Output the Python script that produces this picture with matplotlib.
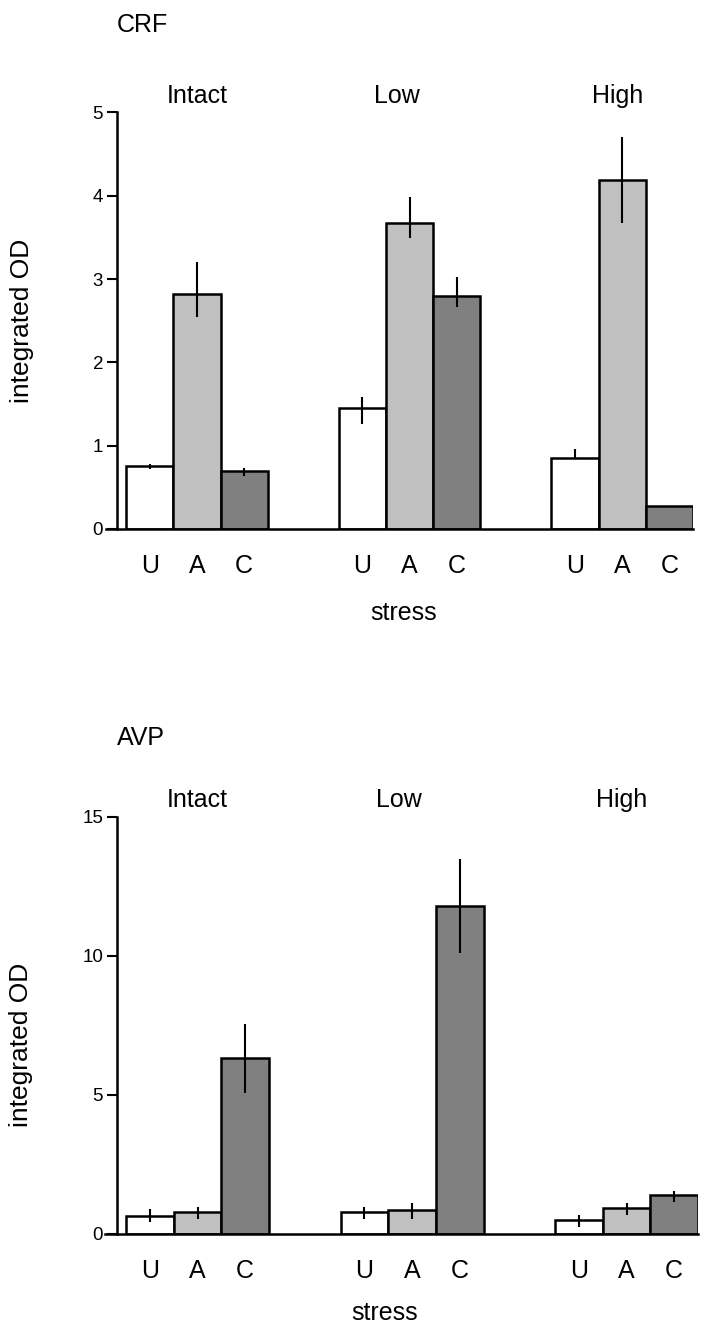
import numpy as np
import matplotlib
matplotlib.use("Agg")
import matplotlib.pyplot as plt
import matplotlib.transforms as mtransforms

plt.rcParams['font.family'] = ['Liberation Sans', 'DejaVu Sans']

groups = ['Intact', 'Low', 'High']
conditions = ['U', 'A', 'C']
colors = ['#ffffff', '#c0c0c0', '#808080']

# CRF values (rows = groups, cols = U, A, C)
crf_mean = [[0.75, 2.82, 0.70],
            [1.45, 3.67, 2.80],
            [0.85, 4.19, 0.28]]
crf_err_lo = [[0.03, 0.28, 0.06],
              [0.19, 0.18, 0.14],
              [0.00, 0.52, 0.00]]
crf_err_hi = [[0.03, 0.38, 0.03],
              [0.13, 0.31, 0.23],
              [0.11, 0.52, 0.00]]

# AVP values
avp_mean = [[0.65, 0.79, 6.34],
            [0.79, 0.86, 11.81],
            [0.50, 0.95, 1.39]]
avp_err_lo = [[0.22, 0.25, 1.27],
              [0.25, 0.32, 1.71],
              [0.25, 0.27, 0.24]]
avp_err_hi = [[0.25, 0.18, 1.21],
              [0.18, 0.24, 1.69],
              [0.18, 0.18, 0.17]]

fig = plt.figure(figsize=(7.11, 13.29), dpi=100)

group_gap = 4.5
label_shift = [0.0, -0.27, -0.1]
big = 18


def draw_panel(ax, means, lo, hi, ymax, yticks, right):
    means = np.array(means)
    lo = np.array(lo)
    hi = np.array(hi)
    xt = []
    xl = []
    tr = mtransforms.blended_transform_factory(ax.transData, ax.transAxes)
    for g in range(3):
        x = g * group_gap + np.arange(3) + 0.5
        ax.bar(x, means[g], width=1.0, color=colors, edgecolor='black',
               linewidth=1.8, zorder=2)
        ax.errorbar(x, means[g], yerr=[lo[g], hi[g]], fmt='none',
                    ecolor='black', elinewidth=1.5, capsize=0, zorder=3)
        xt += list(x)
        xl += conditions
        ax.text(g * group_gap + 1.5 + label_shift[g], 1.04, groups[g],
                transform=tr, ha='center', va='center', fontsize=big)
    ax.axhline(0, xmin=-0.02, color='black', linewidth=1.8, zorder=4,
               clip_on=False)
    ax.set_xlim(-0.19, right)
    ax.set_ylim(0, ymax)
    ax.set_yticks(yticks)
    ax.set_xticks(xt)
    ax.set_xticklabels(xl, fontsize=big)
    ax.tick_params(axis='x', length=0, pad=18)
    ax.tick_params(axis='y', length=7, width=1.5, labelsize=13.5, pad=3)
    for s in ['top', 'right', 'bottom']:
        ax.spines[s].set_visible(False)
    ax.spines['left'].set_linewidth(1.8)
    ax.set_ylabel('integrated OD', fontsize=19)
    ax.set_xlabel('stress', fontsize=big)
    return ax


ax1 = fig.add_axes([0.1646, 0.602, 0.8102, 0.3134])
draw_panel(ax1, crf_mean, crf_err_lo, crf_err_hi, 5, [0, 1, 2, 3, 4, 5], 12.0)
ax1.yaxis.set_label_coords(-0.145, 0.5)
ax1.xaxis.set_label_coords(0.497, -0.172)
fig.text(117 / 711, 1 - 25 / 1329, 'CRF', ha='left', va='center', fontsize=big)

ax2 = fig.add_axes([0.1646, 0.0715, 0.8172, 0.3138])
draw_panel(ax2, avp_mean, avp_err_lo, avp_err_hi, 15, [0, 5, 10, 15], 12.0)
ax2.yaxis.set_label_coords(-0.145, 0.453)
ax2.xaxis.set_label_coords(0.46, -0.16)
fig.text(117 / 711, 1 - 738 / 1329, 'AVP', ha='left', va='center', fontsize=big)

fig.savefig('out.png', dpi=100)
